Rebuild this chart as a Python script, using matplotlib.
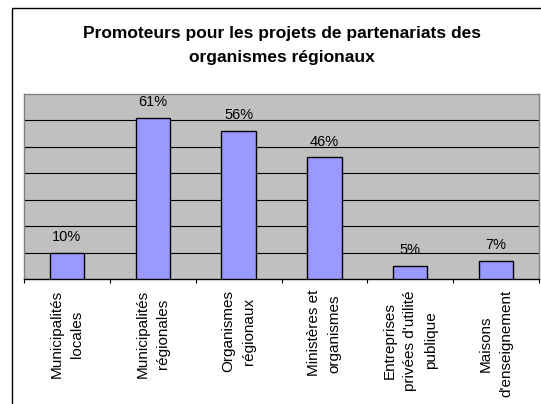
import matplotlib.pyplot as plt
from matplotlib.patches import Rectangle

plt.rcParams['font.family'] = ['Liberation Sans', 'DejaVu Sans']

title = "Promoteurs pour les projets de partenariats des\norganismes régionaux"
categories = [
    "Municipalités\nlocales",
    "Municipalités\nrégionales",
    "Organismes\nrégionaux",
    "Ministères et\norganismes",
    "Entreprises\nprivées d'utilité\npublique",
    "Maisons\nd'enseignement",
]
values = [10, 61, 56, 46, 5, 7]

W, H = 541, 404
fig = plt.figure(figsize=(W / 100, H / 100), dpi=100)

# outer chart frame (runs off the right and bottom edges)
fig.patches.append(Rectangle((12 / W, -0.05), 1.2, 1 - 8 / H + 0.05,
                             transform=fig.transFigure, fill=False,
                             edgecolor='black', linewidth=1.0))

ax = fig.add_axes([24 / W, 1 - 279 / H, (539 - 24) / W, (279 - 94) / H])
ax.set_facecolor('#C0C0C0')

x = [i + 0.5 for i in range(len(values))]
ax.bar(x, values, width=0.4, color='#9999FF', edgecolor='black', linewidth=1.0, zorder=3)

for xi, v in zip(x, values):
    ax.annotate(f"{v}%", (xi, v), xytext=(0, 8.5), textcoords='offset points',
                ha='center', va='baseline', fontsize=10.5, zorder=4)

ax.set_xlim(0, len(values))
ax.set_ylim(0, 70)
ax.set_yticks(range(10, 70, 10))
ax.yaxis.grid(True, color='black', linewidth=0.8)
ax.set_axisbelow(True)
ax.tick_params(axis='y', left=False, labelleft=False)

# ticks at category boundaries, labels at centres
ax.set_xticks(range(len(values) + 1))
ax.tick_params(axis='x', which='major', length=3, width=0.8, color='black', labelbottom=False)
ax.set_xticks(x, minor=True)
ax.set_xticklabels(categories, minor=True, rotation=90, ha='center', va='top',
                   multialignment='center', linespacing=1.6, fontsize=11)
ax.tick_params(axis='x', which='minor', length=0, pad=8)

for s in ['top', 'left', 'right']:
    ax.spines[s].set_color('#808080')
    ax.spines[s].set_linewidth(1.0)
ax.spines['bottom'].set_color('black')
ax.spines['bottom'].set_linewidth(1.0)

fig.text(282 / W, 1 - 26 / H, title, ha='center', va='top', fontsize=12.5,
         fontweight='bold', linespacing=1.75)

fig.savefig('out.png', dpi=100)
